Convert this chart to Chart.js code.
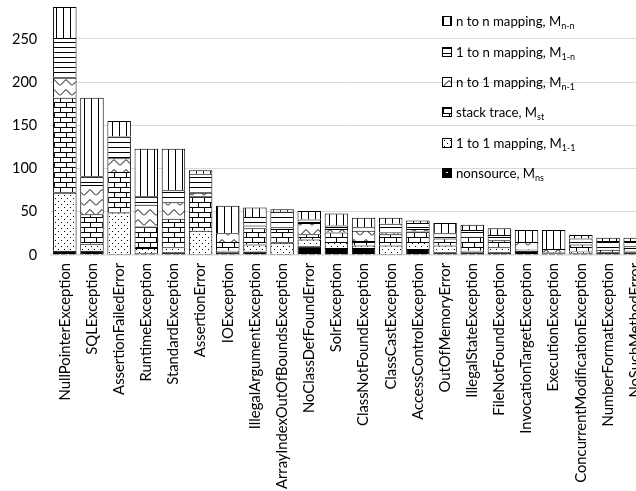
<!DOCTYPE html>
<html>
<head>
<meta charset="utf-8">
<script src="https://cdn.jsdelivr.net/npm/chart.js@4.4.1/dist/chart.umd.min.js"></script>
<style>
  html, body { margin: 0; padding: 0; background: #fff; overflow: hidden; }
  #wrap { position: relative; width: 636px; height: 491px; overflow: hidden; }
  #chart { position: absolute; left: 0; top: -13px; }
  #legend { position: absolute; left: 442px; top: 6px; font-family: Lato, sans-serif; font-size: 13.2px; color: #000; }
  #legend .item { height: 30.4px; display: flex; align-items: center; white-space: nowrap; }
  #legend .box { display: inline-block; width: 8px; height: 8px; border: 1px solid #000; margin-right: 4px; }
  #legend sub { font-size: 9px; vertical-align: -3px; line-height: 0; }
</style>
</head>
<body>
<div id="wrap">
  <canvas id="chart" width="661" height="515"></canvas>
  <div id="legend"></div>
</div>
<script>
const categories = [
  'NullPointerException', 'SQLException', 'AssertionFailedError', 'RuntimeException',
  'StandardException', 'AssertionError', 'IOException', 'IllegalArgumentException',
  'ArrayIndexOutOfBoundsException', 'NoClassDefFoundError', 'SolrException',
  'ClassNotFoundException', 'ClassCastException', 'AccessControlException',
  'OutOfMemoryError', 'IllegalStateException', 'FileNotFoundException',
  'InvocationTargetException', 'ExecutionException', 'ConcurrentModificationException',
  'NumberFormatException', 'NoSuchMethodError'
];

// stacked bottom to top
const nonsource    = [5, 5, 1, 2, 3, 1, 3, 4, 1, 10, 8, 8, 1, 7, 3, 3, 3, 5, 2, 2, 3, 3];
const oneToOne     = [67, 8, 48, 6, 6, 27, 2, 8, 13, 8, 7, 3, 10, 8, 8, 2, 6, 1, 1, 2, 0, 2];
const stackTrace   = [110, 34, 47, 25, 33, 40, 10, 19, 16, 6, 11, 5, 13, 12, 8, 16, 8, 1, 0, 8, 3, 3];
const nToOne       = [23, 34, 16, 25, 19, 4, 10, 3, 2, 13, 4, 12, 2, 3, 0, 0, 0, 8, 4, 0, 0, 2];
const oneToN       = [46, 10, 25, 10, 14, 22, 0, 10, 18, 4, 4, 4, 10, 7, 6, 8, 6, 0, 0, 7, 10, 6];
const nToN         = [36, 91, 18, 55, 48, 4, 32, 11, 3, 10, 14, 11, 7, 3, 12, 6, 8, 14, 22, 4, 4, 4];

const seriesNames = ['nonsource', '1 to 1 mapping', 'stack trace', 'n to 1 mapping', '1 to n mapping', 'n to n mapping'];
const seriesSubs  = ['ns', '1-1', 'st', 'n-1', '1-n', 'n-n'];
const yTicks = [0, 50, 100, 150, 200, 250];

// black & white fill patterns, one per series
function patternCanvas(kind) {
  const c = document.createElement('canvas');
  const sizes = { ns: [8, 8], dots: [6, 6], brick: [12, 10], zigzag: [12, 10], hlines: [1, 5], vlines: [7, 1] };
  c.width = sizes[kind][0];
  c.height = sizes[kind][1];
  const g = c.getContext('2d');
  g.fillStyle = kind === 'ns' ? '#000' : '#fff';
  g.fillRect(0, 0, c.width, c.height);
  g.fillStyle = '#000';
  g.strokeStyle = '#000';
  g.lineWidth = 1;
  if (kind === 'ns') {
    g.fillStyle = '#fff';
    g.fillRect(3, 3, 2, 1);
  } else if (kind === 'dots') {
    g.fillRect(1, 1, 1, 1);
    g.fillRect(4, 4, 1, 1);
  } else if (kind === 'brick') {
    g.fillRect(0, 0, 12, 1);
    g.fillRect(0, 5, 12, 1);
    g.fillRect(0, 0, 1, 5);
    g.fillRect(6, 5, 1, 5);
  } else if (kind === 'zigzag') {
    g.beginPath();
    g.moveTo(0, 8.5); g.lineTo(6, 2.5); g.lineTo(12, 8.5);
    g.stroke();
  } else if (kind === 'hlines') {
    g.fillRect(0, 0, 1, 1);
  } else if (kind === 'vlines') {
    g.fillRect(0, 0, 1, 1);
  }
  return c;
}

const kinds = ['ns', 'dots', 'brick', 'zigzag', 'hlines', 'vlines'];
const seriesData = [nonsource, oneToOne, stackTrace, nToOne, oneToN, nToN];
const ctx = document.getElementById('chart').getContext('2d');

const datasets = seriesData.map((d, i) => {
  const pc = patternCanvas(kinds[i]);
  return {
    label: seriesNames[i] + ', M' + seriesSubs[i],
    sub: seriesSubs[i],
    name: seriesNames[i],
    swatch: pc.toDataURL(),
    data: d,
    backgroundColor: ctx.createPattern(pc, 'repeat'),
    borderColor: '#000',
    borderWidth: 1,
    categoryPercentage: 1,
    barPercentage: 0.865
  };
});

const htmlLegend = {
  id: 'htmlLegend',
  afterUpdate(chart) {
    const box = document.getElementById('legend');
    box.innerHTML = '';
    chart.data.datasets.slice().reverse().forEach(ds => {
      const row = document.createElement('div');
      row.className = 'item';
      const sw = document.createElement('span');
      sw.className = 'box';
      sw.style.backgroundImage = 'url(' + ds.swatch + ')';
      row.appendChild(sw);
      const txt = document.createElement('span');
      txt.innerHTML = ds.name + ', M<sub>' + ds.sub + '</sub>';
      row.appendChild(txt);
      box.appendChild(row);
    });
  }
};

new Chart(ctx, {
  type: 'bar',
  data: { labels: categories, datasets: datasets },
  plugins: [htmlLegend],
  options: {
    responsive: false,
    animation: false,
    layout: { padding: { left: 12, right: 2, top: 0, bottom: 5 } },
    plugins: {
      legend: { display: false },
      tooltip: { enabled: false }
    },
    scales: {
      x: {
        stacked: true,
        grid: { display: false, drawTicks: false },
        border: { display: true, color: '#d9d9d9', width: 1.5 },
        ticks: {
          autoSkip: false,
          maxRotation: 90,
          minRotation: 90,
          padding: 8,
          color: '#000',
          font: { family: 'Lato', size: 14.8 }
        }
      },
      y: {
        stacked: true,
        min: 0,
        max: 300,
        afterBuildTicks(scale) {
          scale.ticks = yTicks.map(v => ({ value: v }));
        },
        grid: { color: '#d9d9d9', drawTicks: true, tickLength: 14, tickColor: 'rgba(0,0,0,0)' },
        border: { display: false },
        ticks: {
          padding: 0,
          color: '#000',
          font: { family: 'Lato', size: 14.5 }
        }
      }
    }
  }
});
</script>
</body>
</html>
